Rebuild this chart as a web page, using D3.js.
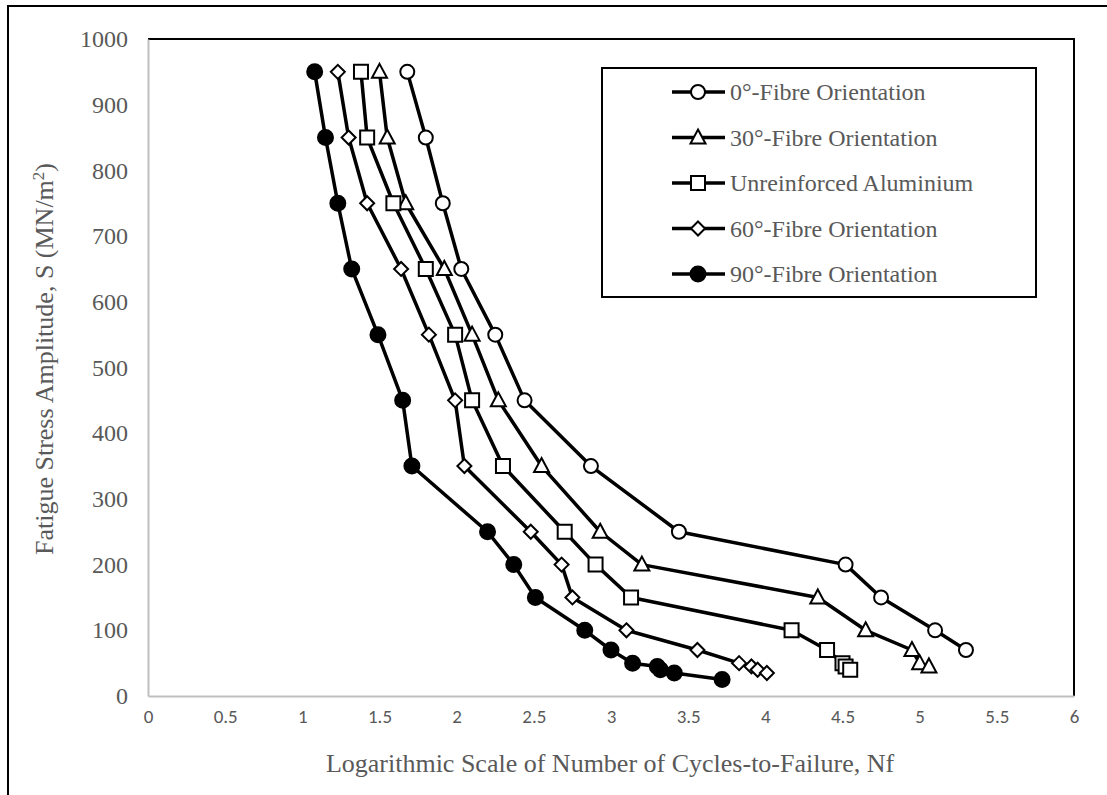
<!DOCTYPE html>
<html>
<head>
<meta charset="utf-8">
<script src="https://cdn.jsdelivr.net/npm/d3@7"></script>
<style>
  body { margin: 0; background: #fff; }
  svg { display: block; }
  .serif { font-family: "Liberation Serif", "DejaVu Serif", serif; }
  .sans { font-family: Carlito, "Liberation Sans Narrow", "Open Sans", sans-serif; }
</style>
</head>
<body>
<div id="chart"></div>
<script>
// fatigue data, x = log10(Nf), y = stress amplitude (MN/m2)
var seriesNames = ['0°-Fibre Orientation', '30°-Fibre Orientation', 'Unreinforced Aluminium', '60°-Fibre Orientation', '90°-Fibre Orientation'];
var seriesMarkers = ['circle', 'triangle', 'square', 'diamond', 'dot'];

var fibre0X = [1.68, 1.80, 1.91, 2.03, 2.25, 2.44, 2.87, 3.44, 4.52, 4.75, 5.10, 5.30];
var fibre0Y = [950, 850, 750, 650, 550, 450, 350, 250, 200, 150, 100, 70];

var fibre30X = [1.50, 1.55, 1.67, 1.92, 2.10, 2.27, 2.55, 2.93, 3.20, 4.34, 4.65, 4.95, 5.00, 5.06];
var fibre30Y = [950, 850, 750, 650, 550, 450, 350, 250, 200, 150, 100, 70, 50, 45];

var alumX = [1.38, 1.42, 1.59, 1.80, 1.99, 2.10, 2.30, 2.70, 2.90, 3.13, 4.17, 4.40, 4.50, 4.52, 4.55];
var alumY = [950, 850, 750, 650, 550, 450, 350, 250, 200, 150, 100, 70, 50, 45, 40];

var fibre60X = [1.23, 1.30, 1.42, 1.64, 1.82, 1.99, 2.05, 2.48, 2.68, 2.75, 3.10, 3.56, 3.83, 3.91, 3.95, 4.01];
var fibre60Y = [950, 850, 750, 650, 550, 450, 350, 250, 200, 150, 100, 70, 50, 45, 40, 35];

var fibre90X = [1.08, 1.15, 1.23, 1.32, 1.49, 1.65, 1.71, 2.20, 2.37, 2.51, 2.83, 3.00, 3.14, 3.30, 3.32, 3.41, 3.72];
var fibre90Y = [950, 850, 750, 650, 550, 450, 350, 250, 200, 150, 100, 70, 50, 45, 40, 35, 25];

var xTicks = [0, 0.5, 1, 1.5, 2, 2.5, 3, 3.5, 4, 4.5, 5, 5.5, 6];
var yTicks = [0, 100, 200, 300, 400, 500, 600, 700, 800, 900, 1000];

(function(){

    var width = 1107, height = 795;
    var plot = {left: 148, right: 1074, top: 39, bottom: 696};
    var grey = '#595959';

    var svg = d3.select('#chart').append('svg')
        .attr('width', width)
        .attr('height', height);

    // outer frame (left and top edges visible)
    svg.append('path')
        .attr('d', 'M8,795 L8,6 L1107,6')
        .attr('fill', 'none')
        .attr('stroke', '#000')
        .attr('stroke-width', 2);

    var x = d3.scaleLinear().domain([0, 6]).range([plot.left, plot.right]);
    var y = d3.scaleLinear().domain([0, 1000]).range([plot.bottom, plot.top]);

    // plot area border: black top/right, grey axes
    svg.append('path')
        .attr('d', 'M' + plot.left + ',' + plot.top + ' L' + plot.right + ',' + plot.top + ' L' + plot.right + ',' + plot.bottom)
        .attr('fill', 'none')
        .attr('stroke', '#000')
        .attr('stroke-width', 2);

    var xAxis = svg.append('g')
        .attr('transform', 'translate(0,' + plot.bottom + ')')
        .call(d3.axisBottom(x).tickValues(xTicks).tickSize(0).tickPadding(14).tickFormat(function(d){return String(d);}));
    xAxis.attr('font-family', null).attr('font-size', null).attr('class', 'sans');
    xAxis.select('.domain').attr('stroke', '#bfbfbf').attr('stroke-width', 2);
    xAxis.selectAll('text')
        .attr('fill', grey)
        .style('font-size', '19px');

    var yAxis = svg.append('g')
        .attr('transform', 'translate(' + plot.left + ',0)')
        .call(d3.axisLeft(y).tickValues(yTicks).tickSize(0).tickPadding(20).tickFormat(function(d){return String(d);}));
    yAxis.attr('font-family', null).attr('font-size', null).attr('class', 'serif');
    yAxis.select('.domain').attr('stroke', '#bfbfbf').attr('stroke-width', 2);
    yAxis.selectAll('text')
        .attr('fill', grey)
        .style('font-size', '24px');

    // axis titles
    svg.append('text')
        .attr('class', 'serif')
        .attr('x', 610)
        .attr('y', 772)
        .attr('text-anchor', 'middle')
        .attr('fill', grey)
        .style('font-size', '26px')
        .text('Logarithmic Scale of Number of Cycles-to-Failure, Nf');

    var yTitle = svg.append('text')
        .attr('class', 'serif')
        .attr('transform', 'translate(53,359) rotate(-90)')
        .attr('text-anchor', 'middle')
        .attr('fill', grey)
        .style('font-size', '26px');
    yTitle.append('tspan').text('Fatigue Stress Amplitude, S (MN/m');
    yTitle.append('tspan').attr('dy', -9).style('font-size', '17px').text('2');
    yTitle.append('tspan').attr('dy', 9).text(')');

    var markerPath = function(type){
        if (type === 'triangle') return 'M0,-8 L7.5,6 L-7.5,6 Z';
        if (type === 'square') return 'M-7,-7 L7,-7 L7,7 L-7,7 Z';
        if (type === 'diamond') return 'M0,-7 L7,0 L0,7 L-7,0 Z';
        return null;
    };

    var drawMarker = function(g, type){
        if (type === 'circle' || type === 'dot') {
            g.append('circle')
                .attr('r', type === 'dot' ? 7.5 : 7)
                .attr('fill', type === 'dot' ? '#000' : '#fff')
                .attr('stroke', '#000')
                .attr('stroke-width', 2);
        } else {
            g.append('path')
                .attr('d', markerPath(type))
                .attr('fill', '#fff')
                .attr('stroke', '#000')
                .attr('stroke-width', 2);
        }
    };

    var allSeries = [
        {xs: fibre0X, ys: fibre0Y},
        {xs: fibre30X, ys: fibre30Y},
        {xs: alumX, ys: alumY},
        {xs: fibre60X, ys: fibre60Y},
        {xs: fibre90X, ys: fibre90Y}
    ];

    var line = d3.line()
        .x(function(d){return x(d[0]);})
        .y(function(d){return y(d[1]);});

    allSeries.forEach(function(s, i){
        var pts = d3.zip(s.xs, s.ys);
        var g = svg.append('g').attr('class', 'series');

        g.append('path')
            .datum(pts)
            .attr('d', line)
            .attr('fill', 'none')
            .attr('stroke', '#000')
            .attr('stroke-width', 3.5)
            .attr('stroke-linejoin', 'round');

        g.selectAll('g.pt')
            .data(pts)
            .enter()
            .append('g')
            .attr('class', 'pt')
            .attr('transform', function(d){return 'translate(' + x(d[0]) + ',' + y(d[1]) + ')';})
            .each(function(){
                drawMarker(d3.select(this), seriesMarkers[i]);
            });
    });

    // legend
    var legend = svg.append('g');
    legend.append('rect')
        .attr('x', 602)
        .attr('y', 68)
        .attr('width', 434)
        .attr('height', 229)
        .attr('fill', '#fff')
        .attr('stroke', '#000')
        .attr('stroke-width', 2);

    seriesNames.forEach(function(name, i){
        var ly = 92 + i * 45.5;
        var item = legend.append('g');
        item.append('line')
            .attr('x1', 672).attr('x2', 725)
            .attr('y1', ly).attr('y2', ly)
            .attr('stroke', '#000')
            .attr('stroke-width', 3.5);
        drawMarker(item.append('g').attr('transform', 'translate(698,' + ly + ')'), seriesMarkers[i]);
        item.append('text')
            .attr('class', 'serif')
            .attr('x', 730)
            .attr('y', ly)
            .attr('dy', '0.35em')
            .attr('fill', grey)
            .style('font-size', '24px')
            .text(name);
    });

})();
</script>
</body>
</html>
